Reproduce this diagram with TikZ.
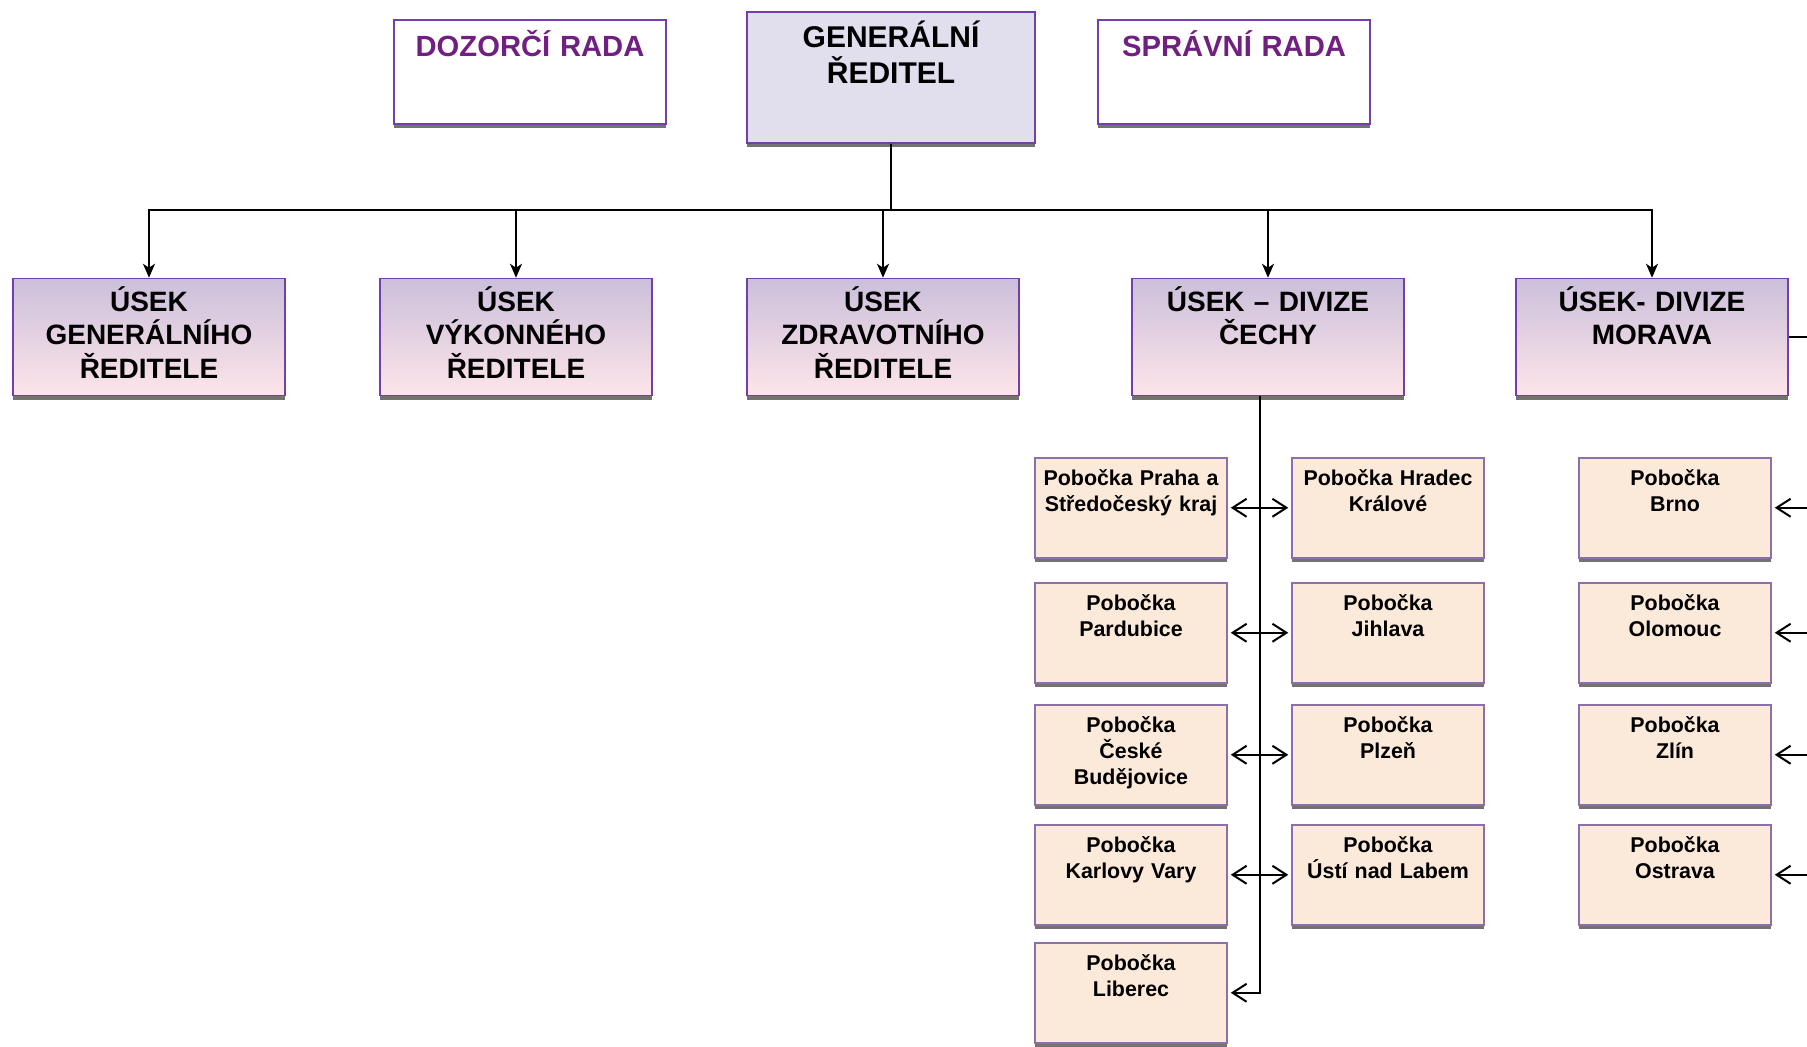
\documentclass[tikz,border=0pt]{standalone}
\usepackage{fontspec}
\setmainfont{Liberation Sans}
\usetikzlibrary{trees,shadows,calc,arrows.meta}

\definecolor{radapurple}{RGB}{112,32,128}
\definecolor{boxedge}{RGB}{118,62,168}
\definecolor{branchedge}{RGB}{140,112,172}
\definecolor{grfill}{RGB}{225,222,238}
\definecolor{usektop}{RGB}{203,191,219}
\definecolor{usekbot}{RGB}{253,229,233}
\definecolor{branchfill}{RGB}{251,233,218}

\tikzset{
	boxshadow/.style={drop shadow={shadow xshift=0pt,shadow yshift=-2pt,fill=black,opacity=.55}},
	radabox/.style={draw=boxedge,line width=.75pt,fill=white,boxshadow,inner sep=0pt,
		text width=136pt,align=center,text height=18pt,text depth=34pt,
		font=\fontsize{14.6}{17}\selectfont\bfseries,text=radapurple},
	grbox/.style={draw=boxedge,line width=.75pt,fill=grfill,boxshadow,inner sep=0pt,
		text width=144pt,align=center,text height=17.5pt,text depth=48pt,
		font=\fontsize{15}{18}\selectfont\bfseries},
	usekbox/.style={draw=boxedge,line width=.75pt,top color=usektop,bottom color=usekbot,boxshadow,inner sep=0pt,
		text width=136pt,align=center,text height=16.5pt,text depth=42pt,
		font=\fontsize{14}{16.7}\selectfont\bfseries},
	branchbox/.style={draw=branchedge,line width=.75pt,fill=branchfill,boxshadow,inner sep=0pt,anchor=north,
		text width=96pt,align=center,text height=13.75pt,text depth=36.25pt,
		font=\fontsize{10.7}{13}\selectfont\bfseries},
	link/.style={line width=1pt},
	brarrow/.style={line width=1pt,>={Straight Barb[length=7pt,width=9pt]},shorten <=1.5pt,shorten >=1.5pt}
}

\begin{document}
\begin{tikzpicture}[x=0.5pt,y=-0.5pt,parent anchor=south,child anchor=north,
	level 1/.style={sibling distance=187.5pt,level distance=129.75pt},
	edge from parent/.style={draw,line width=1pt,-{Stealth[length=7pt,width=6pt,inset=2pt]}},
	edge from parent path={(\tikzparentnode\tikzparentanchor) -- +(0,66) -| (\tikzchildnode\tikzchildanchor)}]
	\useasboundingbox (0,0) rectangle (1807,1046);
	% vedeni
	\node[radabox] (dozor) at (530,72) {DOZORČÍ RADA};
	\node[radabox] (sprava) at (1234,72) {SPRÁVNÍ RADA};
	\node[grbox] (gr) at (891,77.5) {GENERÁLNÍ\\ŘEDITEL}
		child[xshift=4pt] {node[usekbox] (gen) {ÚSEK\\GENERÁLNÍHO\\ŘEDITELE}}
		child {node[usekbox] (vyk) {ÚSEK\\VÝKONNÉHO\\ŘEDITELE}}
		child[xshift=-4pt] {node[usekbox] (zdr) {ÚSEK\\ZDRAVOTNÍHO\\ŘEDITELE}}
		child[xshift=1pt] {node[usekbox] (cechy) {ÚSEK – DIVIZE\\ČECHY}}
		child[xshift=5.5pt] {node[usekbox] (morava) {ÚSEK- DIVIZE\\MORAVA}}
	;
	% pobocky Cechy
	\node[branchbox] (praha) at (1131,457) {Pobočka Praha a\\Středočeský kraj};
	\node[branchbox] (pardub) at (1131,582) {Pobočka\\Pardubice};
	\node[branchbox] (budej) at (1131,704) {Pobočka\\České\\Budějovice};
	\node[branchbox] (kvary) at (1131,824) {Pobočka\\Karlovy Vary};
	\node[branchbox] (liberec) at (1131,942) {Pobočka\\Liberec};
	\node[branchbox] (hradec) at (1388,457) {Pobočka Hradec\\Králové};
	\node[branchbox] (jihlava) at (1388,582) {Pobočka\\Jihlava};
	\node[branchbox] (plzen) at (1388,704) {Pobočka\\Plzeň};
	\node[branchbox] (usti) at (1388,824) {Pobočka\\Ústí nad Labem};
	% pobocky Morava
	\node[branchbox] (brno) at (1675,457) {Pobočka\\Brno};
	\node[branchbox] (olom) at (1675,582) {Pobočka\\Olomouc};
	\node[branchbox] (zlin) at (1675,704) {Pobočka\\Zlín};
	\node[branchbox] (ostrava) at (1675,824) {Pobočka\\Ostrava};

	\coordinate (trunk) at ($(praha.east)!.5!(hradec.west)$);
	\coordinate (redge) at (1807,0);
	\draw[brarrow,->,shorten <=0pt] (cechy.south -| trunk) |- (liberec.east);
	\draw[brarrow,<->] (praha.east) -- (hradec.west);
	\draw[brarrow,<->] (pardub.east) -- (jihlava.west);
	\draw[brarrow,<->] (budej.east) -- (plzen.west);
	\draw[brarrow,<->] (kvary.east) -- (usti.west);

	\draw[link] (morava.east) -- (morava.east -| redge);
	\draw[brarrow,->,shorten <=0pt] (brno.east -| redge) -- (brno.east);
	\draw[brarrow,->,shorten <=0pt] (olom.east -| redge) -- (olom.east);
	\draw[brarrow,->,shorten <=0pt] (zlin.east -| redge) -- (zlin.east);
	\draw[brarrow,->,shorten <=0pt] (ostrava.east -| redge) -- (ostrava.east);
\end{tikzpicture}
\end{document}
